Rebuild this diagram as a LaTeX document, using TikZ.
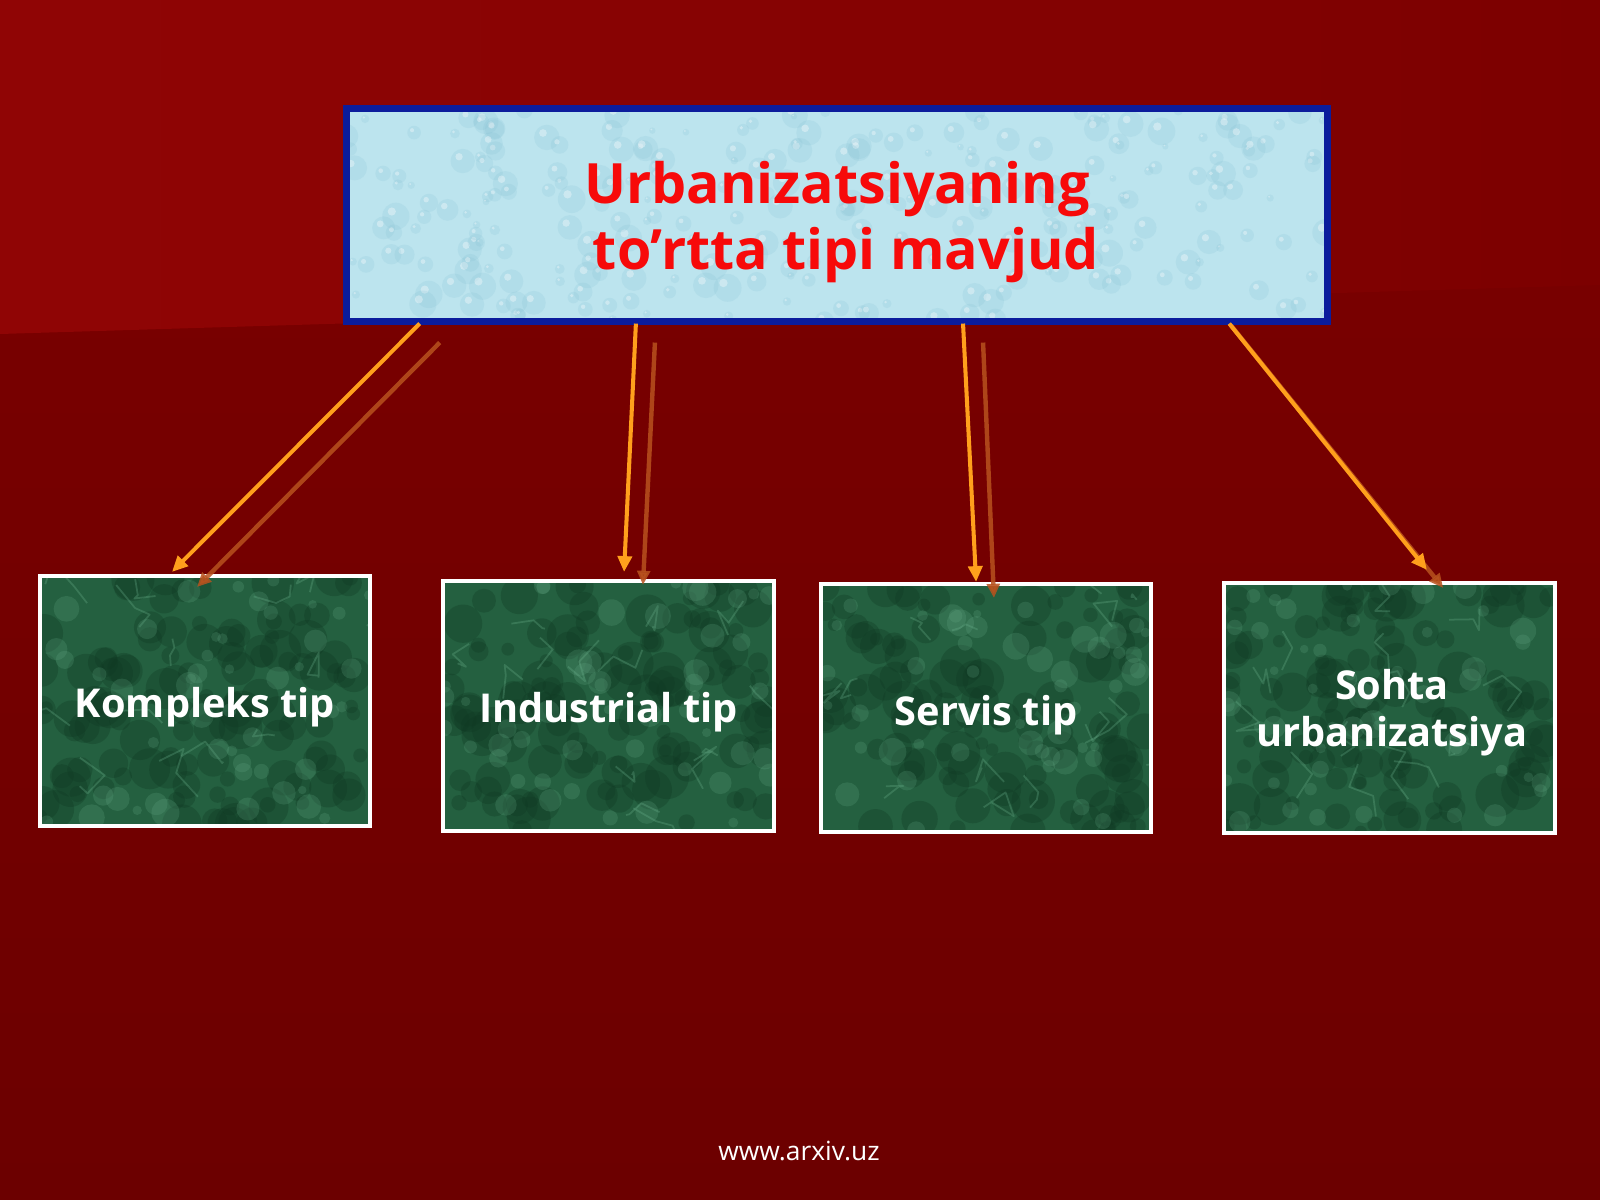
\documentclass[tikz,border=0pt]{standalone}
\usepackage{fontspec}
\setmainfont{Open Sans}
\usetikzlibrary{calc,arrows.meta}
\definecolor{bgTop}{HTML}{7C0000}
\definecolor{bgBot}{HTML}{6C0000}
\definecolor{bgHiL}{HTML}{900505}
\definecolor{bgHiR}{HTML}{7C0000}
\definecolor{boxblue}{HTML}{0B1C9C}
\definecolor{icefill}{HTML}{BCE4EE}
\definecolor{icedark}{HTML}{7DBBD0}
\definecolor{titlered}{HTML}{F70A0A}
\definecolor{marble}{HTML}{246040}
\definecolor{marbledark}{HTML}{0F3822}
\definecolor{marblevein}{HTML}{6AB08C}
\definecolor{arrbright}{HTML}{FFA01C}
\definecolor{arrdark}{HTML}{B8521E}
\tikzset{
  topbox/.style={draw=boxblue, line width=0.07cm, fill=icefill, outer sep=0pt,
    minimum width=9.81cm, minimum height=2.13cm, inner sep=0pt,
    path picture={
      \foreach \i in {1,...,260}{
        \pgfmathsetmacro\rx{rnd*981}
        \pgfmathsetmacro\ry{rnd*213}
        \pgfmathsetmacro\rr{3+rnd*11}
        \fill[icedark,opacity=0.16] ($(path picture bounding box.north west)+(\rx,\ry)$) circle[radius=\rr];
        \fill[white,opacity=0.35] ($(path picture bounding box.north west)+(\rx,\ry)+(-0.3*\rr,-0.35*\rr)$) circle[radius=0.3*\rr];
      }
    }},
  titletext/.style={align=center, text=titlered, inner sep=0pt,
    font=\bfseries\fontsize{15.8}{19}\selectfont},
  greenbox/.style={draw=white, line width=0.04cm, fill=marble, outer sep=0pt,
    minimum width=3.30cm, minimum height=2.50cm, inner sep=0pt,
    path picture={
      \foreach \i in {1,...,120}{
        \pgfmathsetmacro\rx{rnd*330}
        \pgfmathsetmacro\ry{rnd*250}
        \pgfmathsetmacro\rr{6+rnd*16}
        \fill[marbledark,opacity=0.3] ($(path picture bounding box.north west)+(\rx,\ry)$) circle[radius=\rr];
      }
      \foreach \i in {1,...,50}{
        \pgfmathsetmacro\rx{rnd*330}
        \pgfmathsetmacro\ry{rnd*250}
        \pgfmathsetmacro\rr{4+rnd*10}
        \fill[marblevein,opacity=0.2] ($(path picture bounding box.north west)+(\rx,\ry)$) circle[radius=\rr];
      }
      \foreach \i in {1,...,14}{
        \pgfmathsetmacro\rx{rnd*330}
        \pgfmathsetmacro\ry{rnd*250}
        \pgfmathsetmacro\ax{rnd*50-25}
        \pgfmathsetmacro\ay{rnd*50-25}
        \pgfmathsetmacro\bx{rnd*50-25}
        \pgfmathsetmacro\by{rnd*50-25}
        \pgfmathsetmacro\cx{rnd*50-25}
        \pgfmathsetmacro\cy{rnd*50-25}
        \draw[marblevein,opacity=0.3,line width=0.5pt,line join=round] ($(path picture bounding box.north west)+(\rx,\ry)$) -- ++(\ax,\ay) -- ++(\bx,\by) -- ++(\cx,\cy);
      }
    }},
  greentext/.style={align=center, text=white, inner sep=0pt,
    font=\bfseries\fontsize{11.3}{13.4}\selectfont},
  brightarrow/.style={draw=arrbright, line width=1.15pt, -{Triangle[length=4.5pt,width=4pt]}},
  darkarrow/.style={draw=arrdark, line width=1.25pt, opacity=0.85, -{Triangle[length=4pt,width=3.6pt]}},
  footer/.style={text=white, font=\fontsize{7.5}{9}\selectfont, inner sep=0pt}
}
\begin{document}
\begin{tikzpicture}[x=0.01cm,y=-0.01cm]
\pgfmathsetseed{7}
\useasboundingbox (0,0) rectangle (1600,1200);
\shade[top color=bgTop, bottom color=bgBot] (0,0) rectangle (1600,1200);
\shade[left color=bgHiL, right color=bgHiR] (0,0) -- (1600,0) -- (1600,285) -- (0,334) -- cycle;

\node[topbox] (top) at (837,215) {};
\node[titletext] (title) at (837,222) {Urbanizatsiyaning\\ \hspace*{5pt}to’rtta tipi mavjud};

\node[greenbox] (k1) at (205,701) {};
\node[greenbox, minimum width=3.31cm] (k2) at (608.5,706) {};
\node[greenbox, minimum height=2.48cm] (k3) at (986,708) {};
\node[greenbox, minimum width=3.31cm] (k4) at (1389.5,708) {};

\node[greentext] (t1) at (205,707) {Kompleks tip};
\node[greentext] (t2) at (608.5,712) {Industrial tip};
\node[greentext] (t3) at (986,715) {Servis tip};
\node[greentext] (t4) at (1392,713) {Sohta\\ urbanizatsiya};

\node[footer] (foot) at (799,1151) {www.arxiv.uz};

% dark arrows
\draw[darkarrow] ($(top.south west)!0.0953!(top.south east)+(0,21)$) -- ($(k1.north west)!0.476!(k1.north east)+(0,11)$);
\draw[darkarrow] ($(top.south west)!0.3145!(top.south east)+(0,21)$) -- ($(k2.north west)!0.604!(k2.north east)+(0,4)$);
\draw[darkarrow] ($(top.south west)!0.6488!(top.south east)+(0,21)$) -- ($(k3.north west)!0.524!(k3.north east)+(0,14)$);
\draw[darkarrow] ($(top.south west)!0.9015!(top.south east)+(0,4)$) -- ($(k4.north west)!0.662!(k4.north east)+(0,5)$);
% bright arrows
\draw[brightarrow] ($(top.south west)!0.0749!(top.south east)+(0,2)$) -- ($(k1.north west)!0.40!(k1.north east)+(0,-4)$);
\draw[brightarrow] ($(top.south west)!0.2951!(top.south east)+(0,2)$) -- ($(k2.north west)!0.547!(k2.north east)+(0,-9)$);
\draw[brightarrow] ($(top.south west)!0.6284!(top.south east)+(0,2)$) -- ($(k3.north west)!0.47!(k3.north east)+(0,-2)$);
\draw[brightarrow] ($(top.south west)!0.8996!(top.south east)+(0,2)$) -- ($(k4.north west)!0.613!(k4.north east)+(0,-13)$);
\end{tikzpicture}
\end{document}
